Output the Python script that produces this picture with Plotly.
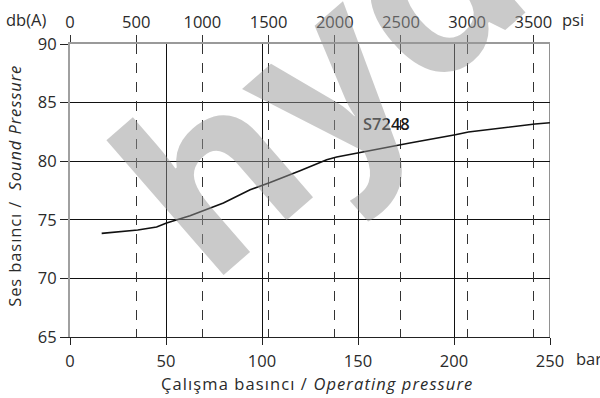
import plotly.graph_objects as go

# Data
pressure_bar = [16.5, 35.3, 45.1, 50.3, 62.5, 79.9, 93.8, 104.2, 119.8, 133.7, 138.9, 151, 172, 177, 200.7, 207.5, 242.2, 250]
sound_db = [73.84, 74.13, 74.38, 74.72, 75.35, 76.43, 77.56, 78.18, 79.19, 80.13, 80.36, 80.75, 81.41, 81.55, 82.26, 82.49, 83.17, 83.28]
series_name = "S7248"
bar_ticks = [0, 50, 100, 150, 200, 250]
db_ticks = [65, 70, 75, 80, 85, 90]
psi_ticks = [0, 500, 1000, 1500, 2000, 2500, 3000, 3500]
PSI_PER_BAR = 14.5038

FONT = "Open Sans"
TXT = "#2a2a2a"
TICKFONT = dict(family=FONT, size=16.5, color=TXT)

L, R, T, B = 70, 550.5, 44.3, 337.3
W, H = 600, 398

def px(x):
    return (x - L) / (R - L)

def py(y):
    return (B - y) / (B - T)

fig = go.Figure()
fig.add_trace(go.Scatter(x=pressure_bar, y=sound_db, mode="lines",
                         line=dict(color="#111111", width=1.6),
                         showlegend=False, hoverinfo="skip"))
# invisible trace to activate top psi axis
fig.add_trace(go.Scatter(x=[0], y=[65], xaxis="x2", mode="markers",
                         marker=dict(opacity=0), showlegend=False, hoverinfo="skip"))

fig.update_layout(
    width=W, height=H,
    margin=dict(l=L, r=W - R, t=T, b=H - B, autoexpand=False),
    paper_bgcolor="white", plot_bgcolor="white",
    font=dict(family=FONT, size=16, color=TXT),
    xaxis=dict(range=[0, 250], tickvals=bar_ticks, ticks="outside", ticklen=7,
               tickcolor="#222", tickwidth=1, automargin=False, ticklabelstandoff=2,
               showgrid=True, gridcolor="#111", gridwidth=1,
               showline=True, linecolor="#222", linewidth=1,
               zeroline=False, tickfont=TICKFONT),
    xaxis2=dict(overlaying="x", side="top", range=[0, 250 * PSI_PER_BAR],
                tickvals=psi_ticks, ticks="outside", ticklen=7,
                tickcolor="#333", tickwidth=1, automargin=False, ticklabelstandoff=1,
                showgrid=True, gridcolor="#333", gridwidth=1, griddash="10px,9px",
                showline=True, linecolor="#9a9a9a", linewidth=1.5,
                zeroline=False, tickfont=TICKFONT),
    yaxis=dict(range=[65, 90], tickvals=db_ticks, ticks="outside", ticklen=8,
               tickcolor="#222", tickwidth=1, automargin=False,
               showgrid=True, gridcolor="#111", gridwidth=1,
               showline=True, linecolor="#a0a0a0", linewidth=2,
               zeroline=False, tickfont=TICKFONT),
)

# right border line
fig.add_shape(type="line", xref="x", yref="paper", x0=250, x1=250, y0=0, y1=1,
              line=dict(color="#222", width=1))

SP = '<span style="letter-spacing:1.1px">{}</span>'
ann = [
    dict(text="db(A)", x=4, y=20, xanchor="left"),
    dict(text="psi", x=561, y=20, xanchor="left"),
    dict(text="bar", x=575, y=359, xanchor="left"),
    dict(text=SP.format("Çalışma basıncı / <i>Operating pressure</i>"), x=317, y=384, xanchor="center"),
    dict(text='<span style="letter-spacing:0.9px">Ses basıncı /  <i>Sound Pressure</i></span>',
         x=15, y=186, xanchor="center", textangle=-90),
]
for a in ann:
    fig.add_annotation(text=a["text"], xref="paper", yref="paper",
                       x=px(a["x"]), y=py(a["y"]),
                       xanchor=a["xanchor"], yanchor="middle",
                       textangle=a.get("textangle", 0), showarrow=False,
                       font=dict(family=FONT, size=16.5, color=TXT))

fig.add_annotation(text=series_name, x=164.9, y=83.2, xref="x", yref="y",
                   showarrow=False, xanchor="center", yanchor="middle",
                   font=dict(family=FONT, size=16.5, color="#1a1a1a", weight=600))

# watermark
fig.add_annotation(text="<b>hydac</b>", xref="paper", yref="paper",
                   x=px(414), y=py(-11), xanchor="center", yanchor="middle",
                   showarrow=False, textangle=-41,
                   font=dict(family="Open Sans", size=235, color="rgba(150,150,150,0.5)"))

fig.write_html("out.html", config={"displayModeBar": False},
               post_script="document.body.style.margin='0';")
